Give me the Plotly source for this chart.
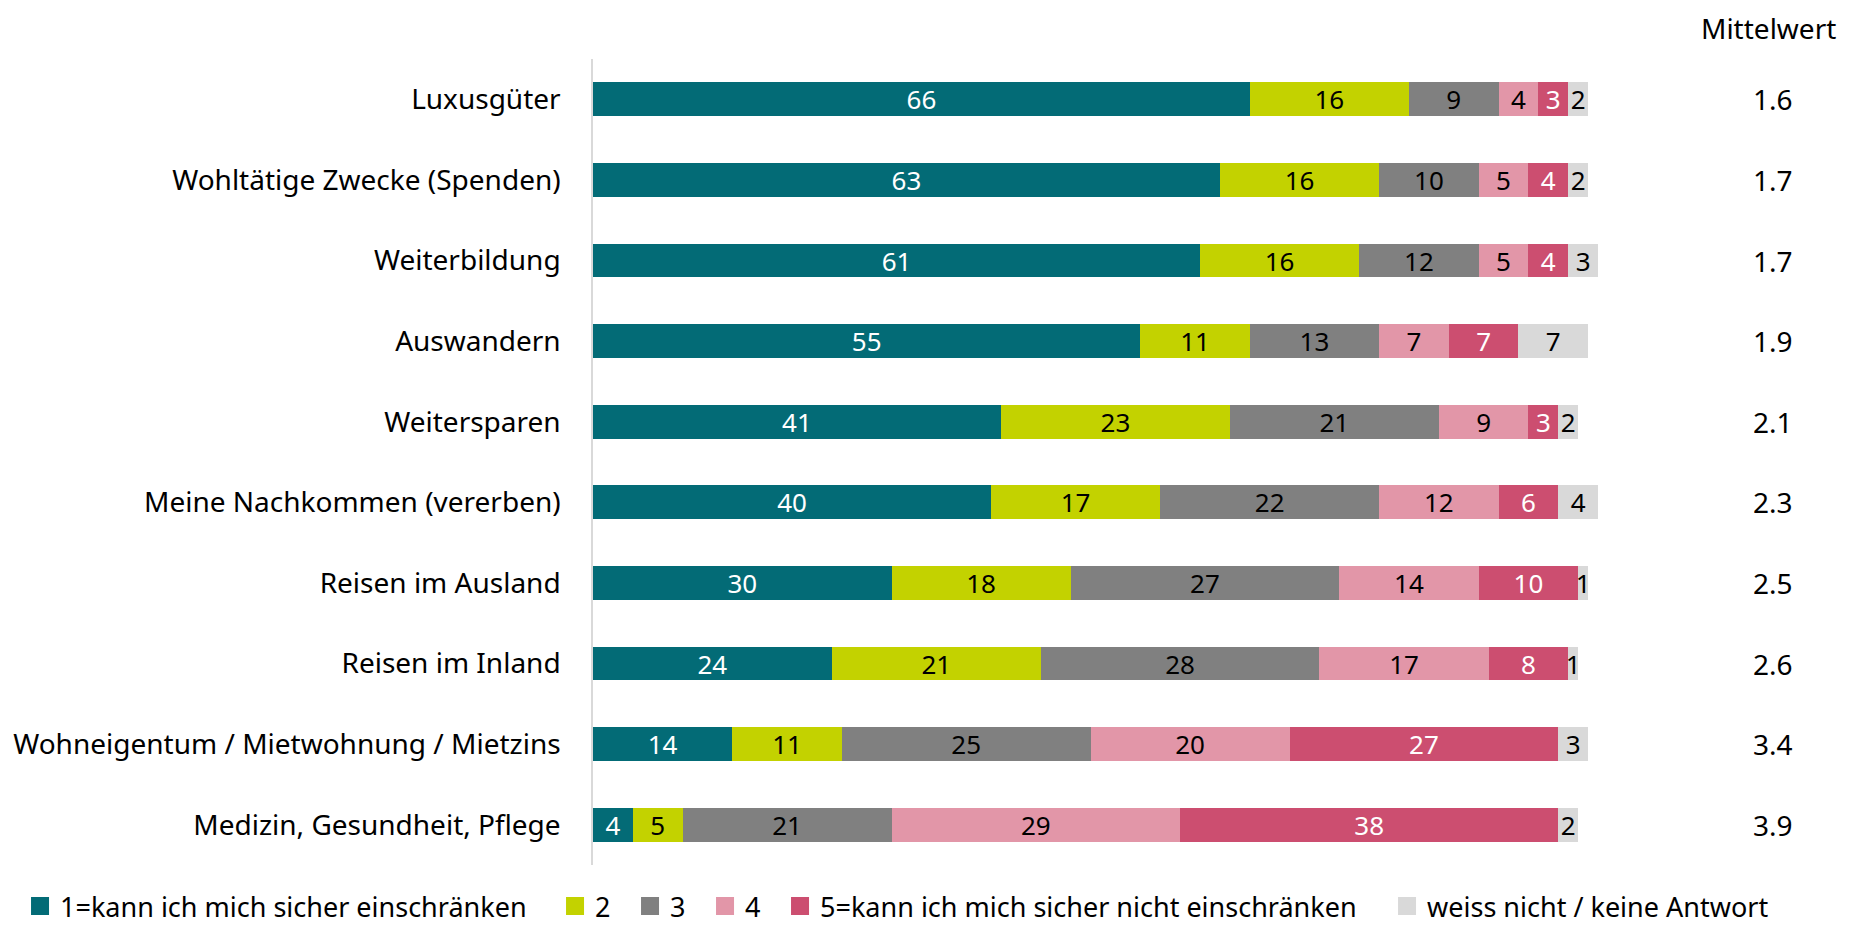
import plotly.graph_objects as go

categories = [
    "Luxusgüter",
    "Wohltätige Zwecke (Spenden)",
    "Weiterbildung",
    "Auswandern",
    "Weitersparen",
    "Meine Nachkommen (vererben)",
    "Reisen im Ausland",
    "Reisen im Inland",
    "Wohneigentum / Mietwohnung / Mietzins",
    "Medizin, Gesundheit, Pflege",
]

series_names = [
    "1=kann ich mich sicher einschränken",
    "2",
    "3",
    "4",
    "5=kann ich mich sicher nicht einschränken",
    "weiss nicht / keine Antwort",
]

v1 = [66, 63, 61, 55, 41, 40, 30, 24, 14, 4]
v2 = [16, 16, 16, 11, 23, 17, 18, 21, 11, 5]
v3 = [9, 10, 12, 13, 21, 22, 27, 28, 25, 21]
v4 = [4, 5, 5, 7, 9, 12, 14, 17, 20, 29]
v5 = [3, 4, 4, 7, 3, 6, 10, 8, 27, 38]
v6 = [2, 2, 3, 7, 2, 4, 1, 1, 3, 2]

mittelwert = ["1.6", "1.7", "1.7", "1.9", "2.1", "2.3", "2.5", "2.6", "3.4", "3.9"]

colors = ["#036B76", "#C3D200", "#808080", "#E296A8", "#CC4E70", "#D9D9D9"]
text_colors = ["white", "black", "black", "black", "white", "black"]
legend_widths = [490, 30, 30, 30, 560, 360]
legend_ids = ["legend", "legend", "legend", "legend", "legend", "legend2"]

LABEL_FONT = "Noto Sans, Open Sans, sans-serif"
BAR_FONT = "Noto Sans, Open Sans, sans-serif"

fig = go.Figure()
for name, vals, col, tcol in zip(series_names, [v1, v2, v3, v4, v5, v6], colors, text_colors):
    fig.add_trace(go.Bar(
        y=categories,
        x=vals,
        name=name,
        orientation="h",
        marker=dict(color=col, line=dict(width=0)),
        text=[str(v) for v in vals],
        textposition="inside",
        insidetextanchor="middle",
        constraintext="none",
        textangle=0,
        insidetextfont=dict(color=tcol, size=26, family=BAR_FONT),
        cliponaxis=False,
        showlegend=False,
        hoverinfo="x+y+name",
    ))

# legend entries (square swatches)
for name, col, lw, lid in zip(series_names, colors, legend_widths, legend_ids):
    fig.add_trace(go.Scatter(
        x=[None], y=[None], mode="markers", name=name,
        marker=dict(symbol="square", size=16, color=col, line=dict(width=2, color=col)),
        legend=lid, legendwidth=lw, showlegend=True, hoverinfo="skip",
    ))

annotations = [
    dict(x=1.1586, y=1.0385, xref="paper", yref="paper", text="Mittelwert", showarrow=False,
         font=dict(size=28, family=LABEL_FONT, color="black"), xanchor="center", yanchor="middle")
]
for cat, m in zip(categories, mittelwert):
    annotations.append(dict(x=1.1626, y=cat, xref="paper", yref="y", text=m, showarrow=False,
                            font=dict(size=28, family=LABEL_FONT, color="black"),
                            xanchor="center", yanchor="middle"))

legend_common = dict(orientation="h", yanchor="middle", y=-0.0515, itemsizing="trace",
                     font=dict(size=27, family=LABEL_FONT, color="black"),
                     traceorder="normal", bgcolor="rgba(0,0,0,0)")

fig.update_layout(
    width=1848, height=918,
    barmode="stack",
    bargap=0.58,
    plot_bgcolor="white",
    paper_bgcolor="white",
    margin=dict(l=585, r=248, t=51, b=61, autoexpand=False),
    font=dict(family=LABEL_FONT, color="black"),
    xaxis=dict(range=[0, 102], showgrid=False, showticklabels=False, zeroline=False, showline=False,
               fixedrange=True),
    yaxis=dict(autorange="reversed", showgrid=False, showline=True, linecolor="#D9D9D9", linewidth=1.5,
               ticks="", ticklabelstandoff=25, tickfont=dict(size=28, family=LABEL_FONT, color="black"),
               fixedrange=True),
    legend=dict(x=-0.5645, xanchor="left", **legend_common),
    legend2=dict(x=0.7823, xanchor="left", **legend_common),
    annotations=annotations,
    showlegend=True,
)

fig.write_html("out.html")
